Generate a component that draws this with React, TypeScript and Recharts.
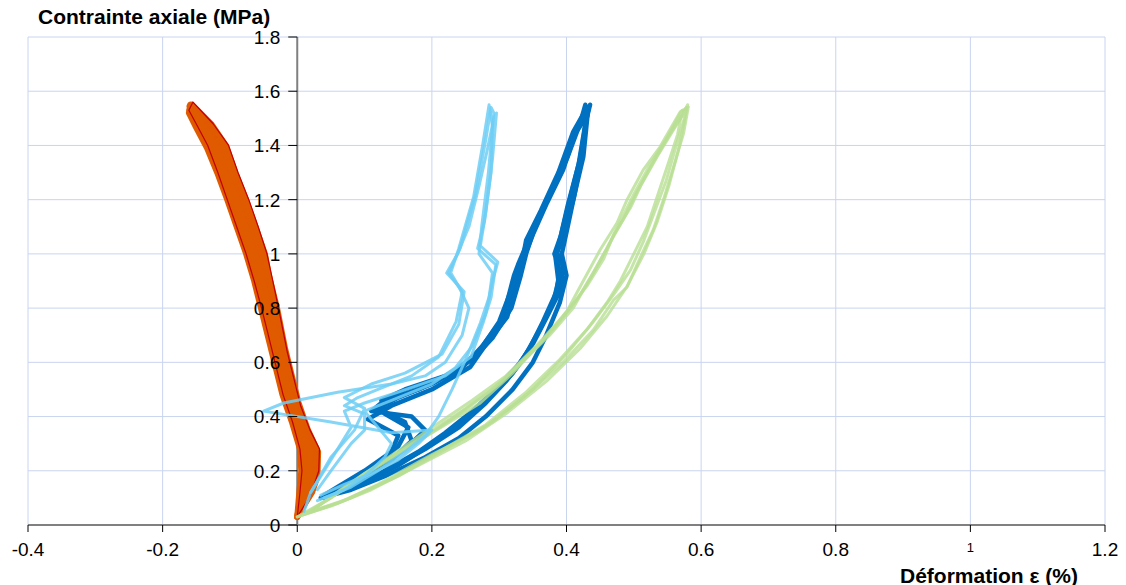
import React from 'react';
import { LineChart, Line, XAxis, YAxis, CartesianGrid, ReferenceLine } from 'recharts';

type Pt = [number, number];

const xTicks = [-0.4, -0.2, 0, 0.2, 0.4, 0.6, 0.8, 1, 1.2];
const yTicks = [0, 0.2, 0.4, 0.6, 0.8, 1, 1.2, 1.4, 1.6, 1.8];

// radial strain (orange band)
const orange1: Pt[] = [
  [0.0, 0.03], [0.012, 0.08], [0.022, 0.12], [0.03, 0.18], [0.031, 0.27], [0.016, 0.35], [0.002, 0.45],
  [-0.008, 0.55], [-0.018, 0.65], [-0.03, 0.8], [-0.042, 0.92], [-0.048, 1.0], [-0.062, 1.1], [-0.076, 1.2],
  [-0.092, 1.3], [-0.106, 1.4], [-0.128, 1.48], [-0.156, 1.55], [-0.16, 1.53], [-0.146, 1.47], [-0.13, 1.4],
  [-0.115, 1.3], [-0.1, 1.2], [-0.086, 1.1], [-0.072, 1.0], [-0.06, 0.9], [-0.05, 0.8], [-0.04, 0.7],
  [-0.03, 0.6], [-0.018, 0.48], [-0.004, 0.38], [0.008, 0.28], [0.01, 0.2], [0.006, 0.12], [0.0, 0.03],
];
const orange2: Pt[] = [
  [0.0, 0.03], [0.01, 0.09], [0.02, 0.14], [0.027, 0.2], [0.028, 0.27], [0.012, 0.36], [-0.002, 0.46],
  [-0.012, 0.56], [-0.022, 0.66], [-0.034, 0.8], [-0.046, 0.92], [-0.054, 1.0], [-0.067, 1.1], [-0.081, 1.2],
  [-0.097, 1.3], [-0.112, 1.4], [-0.134, 1.48], [-0.158, 1.54], [-0.157, 1.51], [-0.141, 1.45], [-0.125, 1.38],
  [-0.11, 1.29], [-0.095, 1.2], [-0.081, 1.1], [-0.067, 1.0], [-0.055, 0.9], [-0.045, 0.8], [-0.035, 0.7],
  [-0.025, 0.6], [-0.013, 0.48], [0.0, 0.38], [0.012, 0.29], [0.016, 0.21], [0.01, 0.13], [0.0, 0.03],
];
const orange3: Pt[] = [
  [0.0, 0.03], [0.008, 0.08], [0.016, 0.13], [0.024, 0.19], [0.025, 0.26], [0.009, 0.35], [-0.005, 0.45],
  [-0.015, 0.55], [-0.026, 0.66], [-0.038, 0.8], [-0.05, 0.92], [-0.058, 1.0], [-0.072, 1.1], [-0.086, 1.2],
  [-0.101, 1.3], [-0.117, 1.4], [-0.138, 1.48], [-0.159, 1.55], [-0.161, 1.52], [-0.149, 1.46], [-0.134, 1.39],
  [-0.119, 1.3], [-0.104, 1.2], [-0.09, 1.1], [-0.076, 1.0], [-0.064, 0.9], [-0.054, 0.8], [-0.044, 0.7],
  [-0.034, 0.6], [-0.022, 0.48], [-0.008, 0.38], [0.004, 0.28], [0.006, 0.2], [0.003, 0.12], [0.0, 0.03],
];
const orange4: Pt[] = [
  [0.0, 0.03], [0.006, 0.09], [0.014, 0.15], [0.02, 0.21], [0.02, 0.27], [0.006, 0.36], [-0.008, 0.46],
  [-0.019, 0.56], [-0.029, 0.66], [-0.041, 0.8], [-0.053, 0.92], [-0.062, 1.0], [-0.076, 1.1], [-0.09, 1.2],
  [-0.106, 1.3], [-0.121, 1.4], [-0.141, 1.48], [-0.16, 1.545], [-0.152, 1.5], [-0.138, 1.44], [-0.124, 1.36],
  [-0.108, 1.27], [-0.094, 1.18], [-0.08, 1.08], [-0.066, 0.98], [-0.055, 0.88], [-0.045, 0.78], [-0.036, 0.68],
  [-0.026, 0.58], [-0.014, 0.47], [-0.002, 0.37], [0.01, 0.28], [0.012, 0.2], [0.006, 0.12], [0.0, 0.03],
];
const redEdge: Pt[] = [
  [0.0, 0.03], [0.02, 0.11], [0.032, 0.2], [0.033, 0.28], [0.019, 0.35], [0.005, 0.44], [-0.005, 0.54],
  [-0.015, 0.64], [-0.027, 0.79], [-0.038, 0.92], [-0.045, 1.0], [-0.058, 1.1], [-0.072, 1.2], [-0.088, 1.3],
  [-0.102, 1.4], [-0.125, 1.48], [-0.155, 1.56], [-0.161, 1.53], [-0.148, 1.47], [-0.133, 1.4], [-0.118, 1.3],
  [-0.104, 1.2], [-0.09, 1.1], [-0.076, 1.0], [-0.064, 0.9], [-0.053, 0.8], [-0.043, 0.7], [-0.033, 0.6],
  [-0.021, 0.48], [-0.007, 0.38], [0.004, 0.28], [0.007, 0.2], [0.004, 0.12], [0.0, 0.03],
];

// light blue gauge
const lightBlue1: Pt[] = [
  [0.035, 0.11], [0.07, 0.15], [0.11, 0.19], [0.15, 0.24], [0.18, 0.3], [0.2, 0.35], [0.14, 0.34],
  [0.05, 0.38], [-0.05, 0.42], [-0.02, 0.45], [0.06, 0.49], [0.14, 0.52], [0.19, 0.55], [0.22, 0.6],
  [0.245, 0.7], [0.255, 0.8], [0.24, 0.88], [0.228, 0.93], [0.24, 1.02], [0.262, 1.21], [0.276, 1.41],
  [0.285, 1.55], [0.29, 1.47], [0.288, 1.3], [0.278, 1.12], [0.268, 1.02], [0.295, 0.96], [0.288, 0.84],
  [0.276, 0.745], [0.258, 0.62], [0.22, 0.55], [0.15, 0.49], [0.1, 0.45], [0.07, 0.42], [0.08, 0.36],
  [0.06, 0.28], [0.04, 0.2], [0.02, 0.12],
];
const lightBlue2: Pt[] = [
  [0.04, 0.1], [0.08, 0.14], [0.12, 0.2], [0.16, 0.27], [0.19, 0.33], [0.21, 0.4], [0.23, 0.5],
  [0.252, 0.62], [0.272, 0.745], [0.285, 0.84], [0.29, 0.93], [0.27, 1.0], [0.274, 1.1], [0.284, 1.3],
  [0.292, 1.52], [0.288, 1.54], [0.28, 1.42], [0.265, 1.22], [0.242, 1.02], [0.225, 0.93], [0.245, 0.86],
  [0.236, 0.75], [0.21, 0.62], [0.17, 0.55], [0.12, 0.5], [0.09, 0.47], [0.07, 0.44], [0.1, 0.41],
  [0.1, 0.35], [0.08, 0.3], [0.05, 0.2], [0.03, 0.13],
];
const lightBlue3: Pt[] = [
  [0.03, 0.09], [0.07, 0.13], [0.1, 0.18], [0.13, 0.25], [0.14, 0.3], [0.12, 0.36], [0.1, 0.42],
  [0.14, 0.46], [0.2, 0.52], [0.235, 0.58], [0.26, 0.66], [0.28, 0.78], [0.29, 0.9], [0.298, 0.97],
  [0.272, 1.03], [0.28, 1.15], [0.29, 1.35], [0.296, 1.52], [0.292, 1.5], [0.282, 1.38], [0.27, 1.25],
  [0.255, 1.1], [0.238, 1.0], [0.222, 0.93], [0.248, 0.86], [0.24, 0.74], [0.215, 0.63], [0.16, 0.56],
  [0.11, 0.52], [0.07, 0.47], [0.1, 0.43], [0.085, 0.35], [0.05, 0.25], [0.02, 0.12], [0.01, 0.05],
];

// dark blue gauge
const darkBlue1: Pt[] = [
  [0.045, 0.11], [0.09, 0.15], [0.14, 0.21], [0.19, 0.28], [0.24, 0.36], [0.28, 0.45], [0.31, 0.53],
  [0.327, 0.583], [0.351, 0.672], [0.371, 0.768], [0.391, 0.867], [0.395, 0.952], [0.386, 1.004],
  [0.395, 1.063], [0.41, 1.2], [0.425, 1.358], [0.432, 1.531], [0.431, 1.542], [0.416, 1.469],
  [0.395, 1.31], [0.371, 1.188], [0.351, 1.077], [0.331, 0.952], [0.327, 0.915], [0.312, 0.768],
  [0.282, 0.672], [0.257, 0.583], [0.2, 0.5], [0.14, 0.44], [0.105, 0.39], [0.15, 0.33], [0.14, 0.27],
  [0.1, 0.2], [0.06, 0.14], [0.04, 0.11],
];
const darkBlue2: Pt[] = [
  [0.05, 0.12], [0.1, 0.16], [0.15, 0.22], [0.2, 0.3], [0.25, 0.39], [0.29, 0.48], [0.32, 0.56],
  [0.345, 0.65], [0.365, 0.75], [0.385, 0.86], [0.39, 0.94], [0.382, 1.0], [0.392, 1.07], [0.405, 1.2],
  [0.42, 1.35], [0.43, 1.5], [0.435, 1.55], [0.428, 1.5], [0.412, 1.44], [0.39, 1.3], [0.365, 1.17],
  [0.345, 1.06], [0.328, 0.96], [0.322, 0.92], [0.305, 0.76], [0.275, 0.66], [0.245, 0.58], [0.2, 0.52],
  [0.15, 0.47], [0.12, 0.43], [0.16, 0.38], [0.17, 0.31], [0.14, 0.24], [0.09, 0.17], [0.05, 0.12],
];
const darkBlue3: Pt[] = [
  [0.04, 0.1], [0.08, 0.14], [0.13, 0.2], [0.18, 0.27], [0.22, 0.34], [0.26, 0.42], [0.3, 0.51],
  [0.335, 0.61], [0.36, 0.72], [0.38, 0.82], [0.388, 0.9], [0.384, 0.98], [0.39, 1.05], [0.402, 1.18],
  [0.418, 1.33], [0.428, 1.48], [0.433, 1.54], [0.426, 1.52], [0.41, 1.45], [0.388, 1.3], [0.362, 1.16],
  [0.34, 1.05], [0.334, 0.97], [0.32, 0.88], [0.3, 0.75], [0.27, 0.64], [0.23, 0.56], [0.18, 0.5],
  [0.13, 0.46], [0.11, 0.42], [0.17, 0.4], [0.19, 0.35], [0.16, 0.28], [0.12, 0.21], [0.07, 0.15], [0.04, 0.1],
];
const darkBlue4: Pt[] = [
  [0.035, 0.1], [0.08, 0.13], [0.13, 0.18], [0.19, 0.25], [0.24, 0.32], [0.28, 0.4], [0.32, 0.5],
  [0.35, 0.6], [0.37, 0.7], [0.39, 0.82], [0.4, 0.92], [0.393, 1.0], [0.4, 1.08], [0.412, 1.22],
  [0.424, 1.38], [0.43, 1.52], [0.428, 1.55], [0.42, 1.48], [0.402, 1.36], [0.38, 1.24], [0.356, 1.12],
  [0.34, 1.0], [0.332, 0.92], [0.318, 0.8], [0.29, 0.69], [0.26, 0.61], [0.22, 0.55], [0.16, 0.5],
  [0.125, 0.46], [0.13, 0.41], [0.165, 0.36], [0.15, 0.29], [0.11, 0.21], [0.07, 0.15], [0.035, 0.1],
];

// green gauge
const green1: Pt[] = [
  [0.0, 0.03], [0.06, 0.08], [0.12, 0.15], [0.2, 0.26], [0.272, 0.35], [0.331, 0.46], [0.395, 0.6],
  [0.44, 0.72], [0.47, 0.83], [0.49, 0.878], [0.51, 0.989], [0.529, 1.089], [0.544, 1.2], [0.559, 1.321],
  [0.574, 1.446], [0.581, 1.542], [0.569, 1.524], [0.539, 1.395], [0.514, 1.31], [0.49, 1.2], [0.475, 1.114],
  [0.45, 1.015], [0.42, 0.878], [0.401, 0.79], [0.361, 0.67], [0.32, 0.56], [0.272, 0.45], [0.22, 0.37],
  [0.16, 0.28], [0.1, 0.19], [0.05, 0.1], [0.01, 0.04],
];
const green2: Pt[] = [
  [0.01, 0.04], [0.07, 0.09], [0.14, 0.17], [0.21, 0.27], [0.28, 0.37], [0.34, 0.49], [0.39, 0.61],
  [0.43, 0.72], [0.46, 0.82], [0.48, 0.9], [0.5, 1.0], [0.52, 1.1], [0.536, 1.22], [0.552, 1.34],
  [0.565, 1.44], [0.572, 1.53], [0.565, 1.5], [0.548, 1.42], [0.527, 1.33], [0.505, 1.23], [0.485, 1.13],
  [0.462, 1.03], [0.44, 0.93], [0.415, 0.83], [0.38, 0.72], [0.34, 0.62], [0.3, 0.52], [0.25, 0.43],
  [0.19, 0.33], [0.12, 0.22], [0.06, 0.12], [0.02, 0.05],
];
const green3: Pt[] = [
  [0.02, 0.05], [0.08, 0.1], [0.15, 0.18], [0.22, 0.28], [0.29, 0.38], [0.35, 0.5], [0.4, 0.63],
  [0.44, 0.75], [0.47, 0.85], [0.495, 0.94], [0.515, 1.05], [0.53, 1.15], [0.548, 1.27], [0.562, 1.39],
  [0.575, 1.5], [0.578, 1.54], [0.572, 1.51], [0.557, 1.45], [0.535, 1.36], [0.51, 1.25], [0.495, 1.17],
  [0.47, 1.07], [0.455, 0.98], [0.43, 0.88], [0.395, 0.77], [0.355, 0.66], [0.31, 0.55], [0.26, 0.46],
  [0.2, 0.36], [0.13, 0.24], [0.07, 0.14], [0.02, 0.05],
];
const green4: Pt[] = [
  [0.0, 0.03], [0.05, 0.07], [0.11, 0.13], [0.18, 0.22], [0.25, 0.31], [0.31, 0.41], [0.37, 0.53],
  [0.42, 0.65], [0.46, 0.77], [0.49, 0.88], [0.515, 1.0], [0.535, 1.12], [0.552, 1.25], [0.566, 1.38],
  [0.576, 1.5], [0.58, 1.55], [0.574, 1.52], [0.55, 1.43], [0.522, 1.32], [0.5, 1.22], [0.48, 1.12],
  [0.46, 1.02], [0.435, 0.91], [0.41, 0.8], [0.375, 0.7], [0.33, 0.59], [0.285, 0.49], [0.235, 0.4],
  [0.175, 0.3], [0.11, 0.2], [0.05, 0.1], [0.0, 0.03],
];

const toRows = (pts: Pt[]) => pts.map(([x, y]) => ({ x, y }));

const W = 1126;
const H = 585;
const M = { top: 37, right: 21, bottom: 30, left: 27 };
const Y_AXIS_W = 1;
const X_MIN = -0.4;
const X_MAX = 1.2;
const FONT = '"Liberation Sans", Arial, sans-serif';

// pixel column of x = 0, where the y axis crosses
const plotLeft = M.left + Y_AXIS_W;
const zeroX = plotLeft + ((0 - X_MIN) / (X_MAX - X_MIN)) * (W - plotLeft - M.right);

const XTick = (props: any) => {
  const { x, y, payload } = props;
  const v = payload.value;
  const small = v === 1;
  return (
    <text x={x} y={y} dy="0.71em" textAnchor="middle" fontFamily={FONT} fontSize={small ? 13 : 19} fill="#000">
      {String(v)}
    </text>
  );
};

const YTick = (props: any) => {
  const { y, payload } = props;
  return (
    <g>
      <line x1={zeroX - 9} x2={zeroX} y1={y} y2={y} stroke="#000" strokeWidth={1} />
      <text x={zeroX - 17} y={y} dy="0.36em" textAnchor="end" fontFamily={FONT} fontSize={19} fill="#000">
        {String(payload.value)}
      </text>
    </g>
  );
};

const series = [
  { key: 'o1', pts: orange1, color: '#e05a00', w: 6, op: 1 },
  { key: 'o2', pts: orange2, color: '#e05a00', w: 6, op: 1 },
  { key: 'o3', pts: orange3, color: '#e05a00', w: 6, op: 1 },
  { key: 'o4', pts: orange4, color: '#e05a00', w: 6, op: 1 },
  { key: 'r1', pts: redEdge, color: '#c00000', w: 1.2, op: 1 },
  { key: 'd1', pts: darkBlue1, color: '#0070c0', w: 4.5, op: 1 },
  { key: 'd2', pts: darkBlue2, color: '#0070c0', w: 4.5, op: 1 },
  { key: 'd3', pts: darkBlue3, color: '#0070c0', w: 4.5, op: 1 },
  { key: 'd4', pts: darkBlue4, color: '#0070c0', w: 4.5, op: 1 },
  { key: 'g1', pts: green1, color: '#b8de92', w: 3, op: 0.8 },
  { key: 'g2', pts: green2, color: '#b8de92', w: 3, op: 0.8 },
  { key: 'g3', pts: green3, color: '#b8de92', w: 3, op: 0.8 },
  { key: 'g4', pts: green4, color: '#b8de92', w: 3, op: 0.8 },
  { key: 'l1', pts: lightBlue1, color: '#6fcef4', w: 3, op: 0.85 },
  { key: 'l2', pts: lightBlue2, color: '#6fcef4', w: 3, op: 0.85 },
  { key: 'l3', pts: lightBlue3, color: '#6fcef4', w: 3, op: 0.85 },
];

export default function App() {
  return (
    <div style={{ position: 'absolute', left: 0, top: 0, width: W, height: H, background: '#fff' }}>
      <LineChart width={W} height={H} margin={M}>
        <CartesianGrid stroke="#c9d4ef" strokeWidth={1} />
        <XAxis
          type="number"
          dataKey="x"
          domain={[X_MIN, X_MAX]}
          ticks={xTicks}
          interval={0}
          allowDataOverflow
          height={30}
          axisLine={{ stroke: '#808080', strokeWidth: 2 }}
          tickLine={{ stroke: '#000' }}
          tickSize={7}
          tickMargin={11}
          tick={<XTick />}
        />
        <YAxis
          type="number"
          domain={[0, 1.8]}
          ticks={yTicks}
          interval={0}
          allowDataOverflow
          width={Y_AXIS_W}
          axisLine={false}
          tickLine={false}
          tick={<YTick />}
        />
        <ReferenceLine x={0} stroke="#808080" strokeWidth={2} />
        {series.map((s) => (
          <Line
            key={s.key}
            data={toRows(s.pts)}
            dataKey="y"
            type="linear"
            stroke={s.color}
            strokeWidth={s.w}
            strokeOpacity={s.op}
            strokeLinejoin="round"
            strokeLinecap="round"
            dot={false}
            activeDot={false}
            isAnimationActive={false}
          />
        ))}
      </LineChart>
      <div style={{ position: 'absolute', left: 38, top: 5, fontFamily: FONT, fontWeight: 'bold', fontSize: 21, color: '#000', whiteSpace: 'nowrap', lineHeight: '24px' }}>
        Contrainte axiale (MPa)
      </div>
      <div style={{ position: 'absolute', left: 900, top: 564, fontFamily: FONT, fontWeight: 'bold', fontSize: 21, color: '#000', whiteSpace: 'nowrap', lineHeight: '24px' }}>
        Déformation ε (%)
      </div>
    </div>
  );
}
